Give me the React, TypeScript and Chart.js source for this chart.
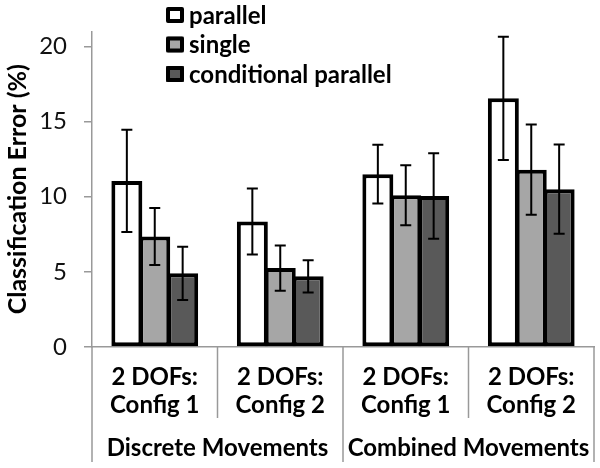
import React, { useEffect, useRef } from 'react';
import { Chart, registerables } from 'chart.js';

Chart.register(...registerables);

const subLabels: string[][] = [
  ['2 DOFs:', 'Config 1'],
  ['2 DOFs:', 'Config 2'],
  ['2 DOFs:', 'Config 1'],
  ['2 DOFs:', 'Config 2'],
];
const groupLabels = ['Discrete Movements', 'Combined Movements'];
const groupSpans = [2, 2];
const seriesNames = ['parallel', 'single', 'conditional parallel'];
const parallelValues = [11.05, 8.35, 11.5, 16.55];
const parallelErrors = [3.4, 2.2, 1.95, 4.1];
const singleValues = [7.35, 5.25, 10.1, 11.8];
const singleErrors = [1.9, 1.5, 2.0, 3.0];
const conditionalValues = [4.9, 4.7, 10.05, 10.5];
const conditionalErrors = [1.77, 1.08, 2.85, 2.97];
const yTicks = [0, 5, 10, 15, 20];
const yTitle = 'Classification Error (%)';

const FONT = 'Lato, Carlito, "Open Sans", sans-serif';
const AXIS_GRAY = '#999999';

const errorBarPlugin = {
  id: 'errorBars',
  afterDatasetsDraw(chart: any) {
    const { ctx } = chart;
    const yScale = chart.scales.y;
    ctx.save();
    ctx.strokeStyle = '#000';
    ctx.lineWidth = 2;
    chart.data.datasets.forEach((ds: any, di: number) => {
      const meta = chart.getDatasetMeta(di);
      meta.data.forEach((el: any, i: number) => {
        const v = ds.data[i];
        const e = ds.errors[i];
        const x = el.x;
        const yTop = yScale.getPixelForValue(v + e);
        const yBot = yScale.getPixelForValue(v - e);
        const cap = 5.5;
        ctx.beginPath();
        ctx.moveTo(x, yTop);
        ctx.lineTo(x, yBot);
        ctx.moveTo(x - cap, yTop);
        ctx.lineTo(x + cap, yTop);
        ctx.moveTo(x - cap, yBot);
        ctx.lineTo(x + cap, yBot);
        ctx.stroke();
      });
    });
    ctx.restore();
  },
};

const legendPlugin = {
  id: 'customLegend',
  afterDraw(chart: any) {
    const { ctx } = chart;
    ctx.save();
    chart.data.datasets.forEach((ds: any, i: number) => {
      const cy = 15 + i * 29.5;
      const bx = 166;
      const bw = 18;
      const bh = 16;
      const by = cy - bh / 2;
      ctx.fillStyle = ds.backgroundColor;
      ctx.fillRect(bx, by, bw, bh);
      ctx.strokeStyle = '#000';
      ctx.lineWidth = 4;
      ctx.lineJoin = 'round';
      ctx.strokeRect(bx + 2, by + 2, bw - 4, bh - 4);
      ctx.fillStyle = '#000';
      ctx.font = `bold 24px ${FONT}`;
      ctx.textAlign = 'left';
      ctx.textBaseline = 'middle';
      ctx.fillText(ds.label, 189, cy + 1);
    });
    ctx.restore();
  },
};

const xLabelPlugin = {
  id: 'multiLevelX',
  afterDraw(chart: any) {
    const { ctx } = chart;
    const x = chart.scales.x;
    const area = chart.chartArea;
    const n = subLabels.length;
    const half = (x.getPixelForValue(1) - x.getPixelForValue(0)) / 2;
    const base = area.bottom;
    ctx.save();
    ctx.strokeStyle = AXIS_GRAY;
    ctx.lineWidth = 1.5;
    const boundaries: { px: number; full: boolean }[] = [];
    let acc = 0;
    const groupEnds = new Set<number>();
    groupSpans.forEach((s) => {
      acc += s;
      groupEnds.add(acc);
    });
    for (let i = 0; i <= n; i++) {
      const px = i === 0 ? x.getPixelForValue(0) - half : x.getPixelForValue(i - 1) + half;
      boundaries.push({ px, full: i === 0 || groupEnds.has(i) });
    }
    boundaries.forEach((b) => {
      ctx.beginPath();
      ctx.moveTo(b.px, base);
      ctx.lineTo(b.px, b.full ? base + 115 : base + 71);
      ctx.stroke();
    });
    ctx.fillStyle = '#000';
    ctx.font = `bold 24px ${FONT}`;
    ctx.textAlign = 'center';
    ctx.textBaseline = 'middle';
    subLabels.forEach((lines, i) => {
      const cx = x.getPixelForValue(i);
      lines.forEach((t, li) => {
        ctx.fillText(t, cx, base + 30 + li * 28);
      });
    });
    let start = 0;
    groupLabels.forEach((g, gi) => {
      const end = start + groupSpans[gi] - 1;
      const cx = (x.getPixelForValue(start) + x.getPixelForValue(end)) / 2;
      ctx.fillText(g, cx, base + 101);
      start = end + 1;
    });
    ctx.restore();
  },
};

export default function App() {
  const ref = useRef<HTMLCanvasElement>(null);
  useEffect(() => {
    if (!ref.current) return;
    const chart = new Chart(ref.current, {
      type: 'bar',
      data: {
        labels: subLabels.map((l) => l.join(' ')),
        datasets: [
          {
            label: seriesNames[0],
            data: parallelValues,
            errors: parallelErrors,
            backgroundColor: '#ffffff',
          },
          {
            label: seriesNames[1],
            data: singleValues,
            errors: singleErrors,
            backgroundColor: '#a6a6a6',
          },
          {
            label: seriesNames[2],
            data: conditionalValues,
            errors: conditionalErrors,
            backgroundColor: '#595959',
          },
        ].map((d) => ({
          ...d,
          borderColor: '#000000',
          borderWidth: 4,
          borderSkipped: false,
          categoryPercentage: 0.667,
          barPercentage: 1.11,
        })) as any,
      },
      options: {
        animation: false,
        responsive: false,
        devicePixelRatio: 1,
        layout: { padding: { top: 4, right: 6, left: 0, bottom: 0 } },
        plugins: {
          legend: { display: false },
          tooltip: { enabled: false },
        },
        scales: {
          x: {
            grid: { display: false, drawTicks: false },
            ticks: { display: false },
            border: { display: true, color: AXIS_GRAY, width: 1.5 },
            afterFit: (s: any) => {
              s.height = 121;
            },
          },
          y: {
            min: 0,
            max: 21,
            afterBuildTicks: (s: any) => {
              s.ticks = yTicks.map((v) => ({ value: v }));
            },
            grid: {
              drawOnChartArea: false,
              drawTicks: true,
              tickLength: 8,
              color: AXIS_GRAY,
              lineWidth: 1.5,
            },
            border: { display: true, color: AXIS_GRAY, width: 1.5 },
            ticks: {
              padding: 17,
              color: '#111',
              font: { family: FONT, size: 24 },
            },
            title: {
              display: true,
              text: yTitle,
              color: '#000',
              font: { family: FONT, size: 25, weight: 'bold' },
              padding: { top: 3, bottom: 0 },
            },
            afterFit: (s: any) => {
              s.width = 92;
            },
          },
        },
      },
      plugins: [errorBarPlugin, legendPlugin, xLabelPlugin],
    });
    return () => chart.destroy();
  }, []);
  return (
    <div style={{ position: 'absolute', left: 0, top: 0, width: 600, height: 468, background: '#fff' }}>
      <canvas ref={ref} width={600} height={468} />
    </div>
  );
}
